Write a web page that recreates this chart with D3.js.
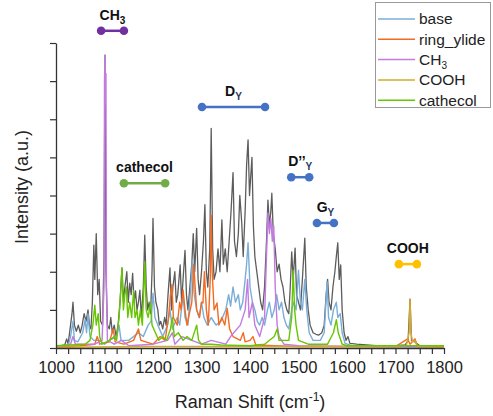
<!DOCTYPE html>
<html>
<head>
<meta charset="utf-8">
<script src="https://cdn.jsdelivr.net/npm/d3@7"></script>
<style>
  body { margin: 0; background: #fff; }
  svg { display: block; font-family: "Liberation Sans", Arial, sans-serif; }
</style>
</head>
<body>
<div id="chart"></div>
<script>
// spectra as [Raman shift (cm-1), intensity] pairs
var totalSpectrum = [
  [1000,0.02],[1010,0.03],[1018,0.04],[1022,0.12],[1025,0.05],[1030,0.3],[1033,0.45],[1035,0.6],[1038,0.3],
  [1042,0.22],[1046,0.3],[1050,0.2],[1054,0.3],[1058,0.45],[1062,0.35],[1066,0.5],[1069,0.3],[1072,0.25],
  [1075,0.6],[1078,1.35],[1080,0.9],[1083,1.5],[1086,0.7],[1089,0.9],[1092,0.35],[1096,0.3],[1099,1.2],
  [1101,3.84],[1103,1.0],[1106,0.3],[1110,0.25],[1113,0.4],[1116,0.2],[1120,0.3],[1124,0.15],[1128,0.3],
  [1132,0.6],[1136,1.05],[1139,0.6],[1142,0.8],[1146,1.0],[1149,0.6],[1152,0.85],[1155,0.7],[1158,0.98],
  [1161,0.6],[1164,0.75],[1167,0.5],[1170,0.6],[1173,0.76],[1176,0.4],[1180,0.8],[1183,1.48],[1186,0.8],
  [1189,0.5],[1192,0.6],[1195,0.45],[1198,1.0],[1200,1.7],[1203,0.8],[1206,0.6],[1210,0.5],[1213,0.3],
  [1216,0.35],[1220,0.25],[1224,0.4],[1227,0.3],[1231,0.7],[1235,1.05],[1238,0.5],[1241,0.8],[1245,1.0],
  [1248,0.6],[1251,0.7],[1256,1.09],[1259,0.6],[1262,0.9],[1266,1.28],[1269,0.7],[1272,0.5],[1276,0.8],
  [1280,1.1],[1283,1.5],[1286,1.0],[1290,1.57],[1293,0.9],[1296,0.7],[1300,1.0],[1304,1.4],[1307,1.88],
  [1310,1.0],[1313,0.8],[1317,1.3],[1320,2.88],[1323,1.3],[1326,0.9],[1330,1.0],[1334,1.3],[1338,1.0],
  [1342,1.68],[1345,1.1],[1349,1.3],[1353,1.0],[1357,1.4],[1361,1.8],[1365,2.3],[1368,1.4],[1372,1.2],
  [1376,1.5],[1379,2.0],[1383,1.64],[1386,1.2],[1390,1.8],[1393,2.4],[1396,2.73],[1399,2.0],[1402,2.3],
  [1404,2.5],[1407,1.6],[1410,1.2],[1414,1.0],[1418,0.8],[1422,0.6],[1426,0.5],[1430,0.8],[1434,1.4],
  [1437,1.94],[1440,1.6],[1443,1.8],[1445,2.03],[1448,1.5],[1452,1.3],[1456,1.0],[1460,1.1],[1464,0.9],
  [1468,0.8],[1472,0.6],[1476,0.5],[1480,0.45],[1483,0.8],[1486,1.26],[1489,0.9],[1493,1.31],[1496,0.7],
  [1500,0.6],[1504,0.5],[1508,0.9],[1513,1.44],[1516,0.8],[1520,0.5],[1524,0.3],[1530,0.2],[1536,0.18],
  [1542,0.17],[1548,0.2],[1553,0.3],[1557,0.7],[1560,0.9],[1563,0.6],[1567,0.5],[1571,0.8],[1575,1.0],
  [1578,1.2],[1581,1.38],[1584,0.9],[1587,1.09],[1590,0.5],[1594,0.2],[1598,0.1],[1602,0.15],[1606,0.06],
  [1620,0.05],[1640,0.04],[1660,0.03],[1700,0.03],[1720,0.04],[1726,0.1],[1730,0.64],[1733,0.1],
  [1740,0.08],[1750,0.03],[1800,0.02]
];

var baseSpectrum = [
  [1000,0.01],[1025,0.03],[1030,0.15],[1035,0.35],[1038,0.1],[1045,0.08],[1055,0.2],[1060,0.37],[1063,0.2],
  [1066,0.45],[1070,0.15],[1078,0.1],[1090,0.1],[1100,0.05],[1110,0.1],[1125,0.15],[1130,0.3],[1134,0.1],
  [1150,0.1],[1170,0.2],[1180,0.15],[1190,0.3],[1196,0.35],[1200,0.72],[1204,0.4],[1210,0.3],[1220,0.15],
  [1230,0.3],[1235,0.5],[1240,0.25],[1250,0.4],[1255,0.3],[1262,0.7],[1266,0.4],[1272,0.3],[1278,0.8],
  [1281,1.15],[1285,0.7],[1290,0.5],[1295,0.4],[1300,0.6],[1305,0.4],[1312,0.3],[1320,0.4],[1330,0.3],
  [1340,0.35],[1350,0.5],[1356,0.7],[1360,0.55],[1365,0.8],[1370,0.6],[1376,0.7],[1380,0.5],[1385,0.6],
  [1390,0.9],[1393,1.1],[1396,1.38],[1400,0.8],[1405,0.6],[1410,0.5],[1415,0.35],[1420,0.3],[1425,0.4],
  [1430,0.3],[1436,0.5],[1440,0.6],[1445,0.4],[1450,0.5],[1455,0.7],[1460,0.5],[1465,0.6],[1470,0.4],
  [1475,0.3],[1480,0.25],[1486,0.5],[1490,0.6],[1495,0.5],[1500,1.02],[1504,0.6],[1508,0.5],[1513,0.9],
  [1517,0.5],[1522,0.2],[1530,0.1],[1545,0.1],[1553,0.2],[1559,0.87],[1562,0.4],[1567,0.3],[1572,0.5],
  [1578,0.6],[1581,0.4],[1586,0.45],[1590,0.2],[1596,0.06],[1610,0.03],[1700,0.02],[1800,0.02]
];

var ringYlideSpectrum = [
  [1000,0.01],[1050,0.03],[1080,0.05],[1085,0.15],[1090,0.05],[1110,0.08],[1118,0.25],[1122,0.08],
  [1140,0.05],[1160,0.1],[1170,0.25],[1175,0.1],[1200,0.05],[1215,0.15],[1225,0.1],[1232,0.4],[1236,0.7],
  [1239,0.83],[1242,0.4],[1250,0.3],[1255,0.6],[1258,0.5],[1262,0.76],[1266,0.5],[1270,0.3],[1275,0.45],
  [1280,0.6],[1284,1.1],[1287,0.79],[1290,0.5],[1296,0.4],[1300,0.6],[1303,0.59],[1306,1.0],[1310,0.5],
  [1314,0.3],[1318,0.9],[1320,1.74],[1322,1.0],[1326,0.5],[1332,0.59],[1336,0.3],[1342,0.4],[1348,0.3],
  [1353,0.52],[1358,0.25],[1365,0.15],[1380,0.1],[1386,0.2],[1390,0.08],[1400,0.1],[1406,0.15],
  [1412,0.04],[1450,0.03],[1500,0.02],[1700,0.02],[1725,0.12],[1730,0.05],[1740,0.12],[1745,0.03],
  [1800,0.02]
];

var ch3Spectrum = [
  [1000,0.01],[1030,0.05],[1035,0.15],[1040,0.05],[1080,0.05],[1095,0.1],[1099,0.8],[1100,3.5],
  [1101,3.84],[1102,3.2],[1103,3.6],[1104,0.8],[1106,0.1],[1120,0.05],[1135,0.1],[1150,0.03],[1200,0.05],
  [1230,0.1],[1240,0.2],[1245,0.05],[1260,0.15],[1300,0.05],[1320,0.1],[1350,0.05],[1360,0.15],
  [1380,0.3],[1390,0.5],[1395,0.9],[1398,0.4],[1405,0.6],[1410,0.3],[1420,0.15],[1430,0.4],[1434,1.2],
  [1437,1.77],[1440,1.5],[1443,1.7],[1446,1.4],[1449,1.6],[1452,0.8],[1456,0.3],[1460,0.15],[1470,0.05],
  [1500,0.03],[1600,0.02],[1800,0.01]
];

var coohSpectrum = [
  [1000,0.01],[1200,0.02],[1300,0.02],[1700,0.02],[1722,0.03],[1725,0.1],[1728,0.2],[1730,0.64],
  [1732,0.2],[1735,0.08],[1740,0.1],[1745,0.02],[1800,0.01]
];

var cathecolSpectrum = [
  [1000,0.03],[1030,0.04],[1060,0.05],[1070,0.1],[1076,0.3],[1080,0.56],[1083,0.3],[1087,0.45],[1090,0.15],
  [1095,0.05],[1110,0.1],[1120,0.15],[1125,0.1],[1130,0.4],[1133,0.7],[1136,1.05],[1139,0.5],[1142,0.7],
  [1145,0.8],[1148,0.4],[1152,0.6],[1156,0.4],[1160,0.75],[1163,0.4],[1167,0.5],[1170,0.3],[1174,0.5],
  [1178,0.3],[1180,0.6],[1183,1.13],[1186,0.5],[1190,0.4],[1195,0.6],[1198,0.3],[1205,0.2],[1212,0.1],
  [1220,0.15],[1228,0.1],[1236,0.25],[1240,0.4],[1244,0.15],[1252,0.2],[1262,0.1],[1270,0.15],[1280,0.1],
  [1290,0.3],[1294,0.1],[1300,0.05],[1320,0.05],[1340,0.04],[1400,0.03],[1430,0.05],[1450,0.15],
  [1456,0.25],[1460,0.1],[1480,0.1],[1486,0.4],[1489,1.02],[1492,0.5],[1495,0.3],[1500,0.1],[1520,0.05],
  [1560,0.05],[1572,0.2],[1578,0.37],[1582,0.2],[1590,0.05],[1600,0.03],[1800,0.03]
];

var legendNames = ["base", "ring_ylide", "CH3", "COOH", "cathecol"];
var legendColors = ["#7aaed8", "#f26b21", "#c27be0", "#d4aa2e", "#66c600"];

// band annotations: label (+ subscript), start / end shift, height (intensity units)
var bandLabels = ["CH", "cathecol", "D", "D\u2019\u2019", "G", "COOH"];
var bandSubs = ["3", "", "Y", "Y", "Y", ""];
var bandStart = [1093, 1140, 1301, 1485, 1538, 1707];
var bandEnd = [1140, 1225, 1431, 1522, 1573, 1744];
var bandLevel = [4.16, 2.16, 3.16, 2.24, 1.64, 1.10];
var bandColors = ["#7030a0", "#70ad47", "#4472c4", "#4472c4", "#4472c4", "#ffc000"];

var xTicks = d3.range(1000, 1801, 100);
var width = 493, height = 416;

var svg = d3.select("#chart").append("svg")
    .attr("width", width).attr("height", height);

var x = d3.scaleLinear().domain([1000, 1800]).range([56, 444]),
    y = d3.scaleLinear().domain([0, 4]).range([348, 43]);

var line = d3.line()
    .x(function(d) { return x(d[0]); })
    .y(function(d) { return y(d[1]); });

// grey sum spectrum sits behind the components
svg.append("path")
    .datum(totalSpectrum)
    .attr("fill", "none")
    .attr("stroke", "#4a4a4a")
    .attr("stroke-opacity", 0.9)
    .attr("stroke-width", 1.3)
    .attr("stroke-linejoin", "round")
    .attr("d", line);

var componentSeries = [baseSpectrum, ringYlideSpectrum, ch3Spectrum, coohSpectrum, cathecolSpectrum];
svg.append("g").selectAll("path")
    .data(componentSeries)
    .enter().append("path")
    .attr("fill", "none")
    .attr("stroke", function(d, i) { return legendColors[i]; })
    .attr("stroke-width", 1.4)
    .attr("stroke-linejoin", "round")
    .attr("d", line);

// axes
var xAxis = svg.append("g")
    .attr("transform", "translate(0," + y(0) + ")")
    .call(d3.axisBottom(x)
      .tickValues(d3.range(1000, 1801, 25))
      .tickSize(6).tickSizeOuter(0)
      .tickFormat(function(d) { return xTicks.indexOf(d) >= 0 ? d : ""; }));
xAxis.select(".domain").attr("stroke", "#333").attr("stroke-width", 1.3);
xAxis.selectAll(".tick line").attr("stroke", "#333").attr("stroke-width", 1.2);
xAxis.selectAll("text").attr("font-size", 16.5).attr("fill", "#222").attr("dy", "0.95em");

var yAxis = svg.append("g")
    .attr("transform", "translate(" + x(1000) + ",0)")
    .call(d3.axisLeft(y)
      .tickValues(d3.range(0, 4.01, 0.5))
      .tickSize(6).tickSizeOuter(0)
      .tickFormat(""));
yAxis.select(".domain").attr("stroke", "#333").attr("stroke-width", 1.3);
yAxis.selectAll(".tick line").attr("stroke", "#333").attr("stroke-width", 1.2);

var xTitle = svg.append("text")
    .attr("x", 250).attr("y", 408)
    .attr("text-anchor", "middle")
    .attr("font-size", 18).attr("fill", "#222");
xTitle.append("tspan").text("Raman Shift (cm");
xTitle.append("tspan").attr("font-size", 12).attr("dy", -7).text("-1");
xTitle.append("tspan").attr("dy", 7).text(")");

svg.append("text")
    .attr("transform", "translate(28,187) rotate(-90)")
    .attr("text-anchor", "middle")
    .attr("font-size", 18).attr("fill", "#222")
    .text("Intensity (a.u.)");

// band markers
var bands = svg.append("g").selectAll("g")
    .data(bandLabels)
    .enter().append("g");

bands.append("line")
    .attr("x1", function(d, i) { return x(bandStart[i]); })
    .attr("x2", function(d, i) { return x(bandEnd[i]); })
    .attr("y1", function(d, i) { return y(bandLevel[i]); })
    .attr("y2", function(d, i) { return y(bandLevel[i]); })
    .attr("stroke", function(d, i) { return bandColors[i]; })
    .attr("stroke-width", 2.5);

bands.selectAll("circle")
    .data(function(d, i) { return [[bandStart[i], bandLevel[i], bandColors[i]], [bandEnd[i], bandLevel[i], bandColors[i]]]; })
    .enter().append("circle")
    .attr("cx", function(d) { return x(d[0]); })
    .attr("cy", function(d) { return y(d[1]); })
    .attr("r", 4.3)
    .attr("fill", function(d) { return d[2]; });

bands.append("text")
    .attr("x", function(d, i) { return x((bandStart[i] + bandEnd[i]) / 2); })
    .attr("y", function(d, i) { return y(bandLevel[i]) - 11; })
    .attr("text-anchor", "middle")
    .attr("font-weight", "bold")
    .attr("font-size", 14)
    .attr("fill", "#111")
    .each(function(d, i) {
      var t = d3.select(this);
      t.append("tspan").text(d);
      if (bandSubs[i]) {
        t.append("tspan").attr("font-size", 10).attr("dy", 4)
          .attr("fill", bandSubs[i] === "Y" ? "#1f3864" : "#111").text(bandSubs[i]);
      }
    });

// legend
var legend = svg.append("g");
legend.append("rect")
    .attr("x", 375.5).attr("y", 2.5).attr("width", 115).attr("height", 105)
    .attr("fill", "#fff").attr("stroke", "#999").attr("stroke-width", 1);

var legendRows = legend.selectAll("g.row")
    .data(legendNames)
    .enter().append("g")
    .attr("class", "row")
    .attr("transform", function(d, i) { return "translate(0," + (19 + i * 20.3) + ")"; });

legendRows.append("line")
    .attr("x1", 378).attr("x2", 415)
    .attr("stroke", function(d, i) { return legendColors[i]; })
    .attr("stroke-width", 1.5);

legendRows.append("text")
    .attr("x", 419).attr("dy", "0.35em")
    .attr("font-size", 15.5).attr("fill", "#222")
    .each(function(d) {
      var t = d3.select(this);
      if (d === "CH3") {
        t.append("tspan").text("CH");
        t.append("tspan").attr("font-size", 10).attr("dy", 4).text("3");
      } else {
        t.text(d);
      }
    });
</script>
</body>
</html>
